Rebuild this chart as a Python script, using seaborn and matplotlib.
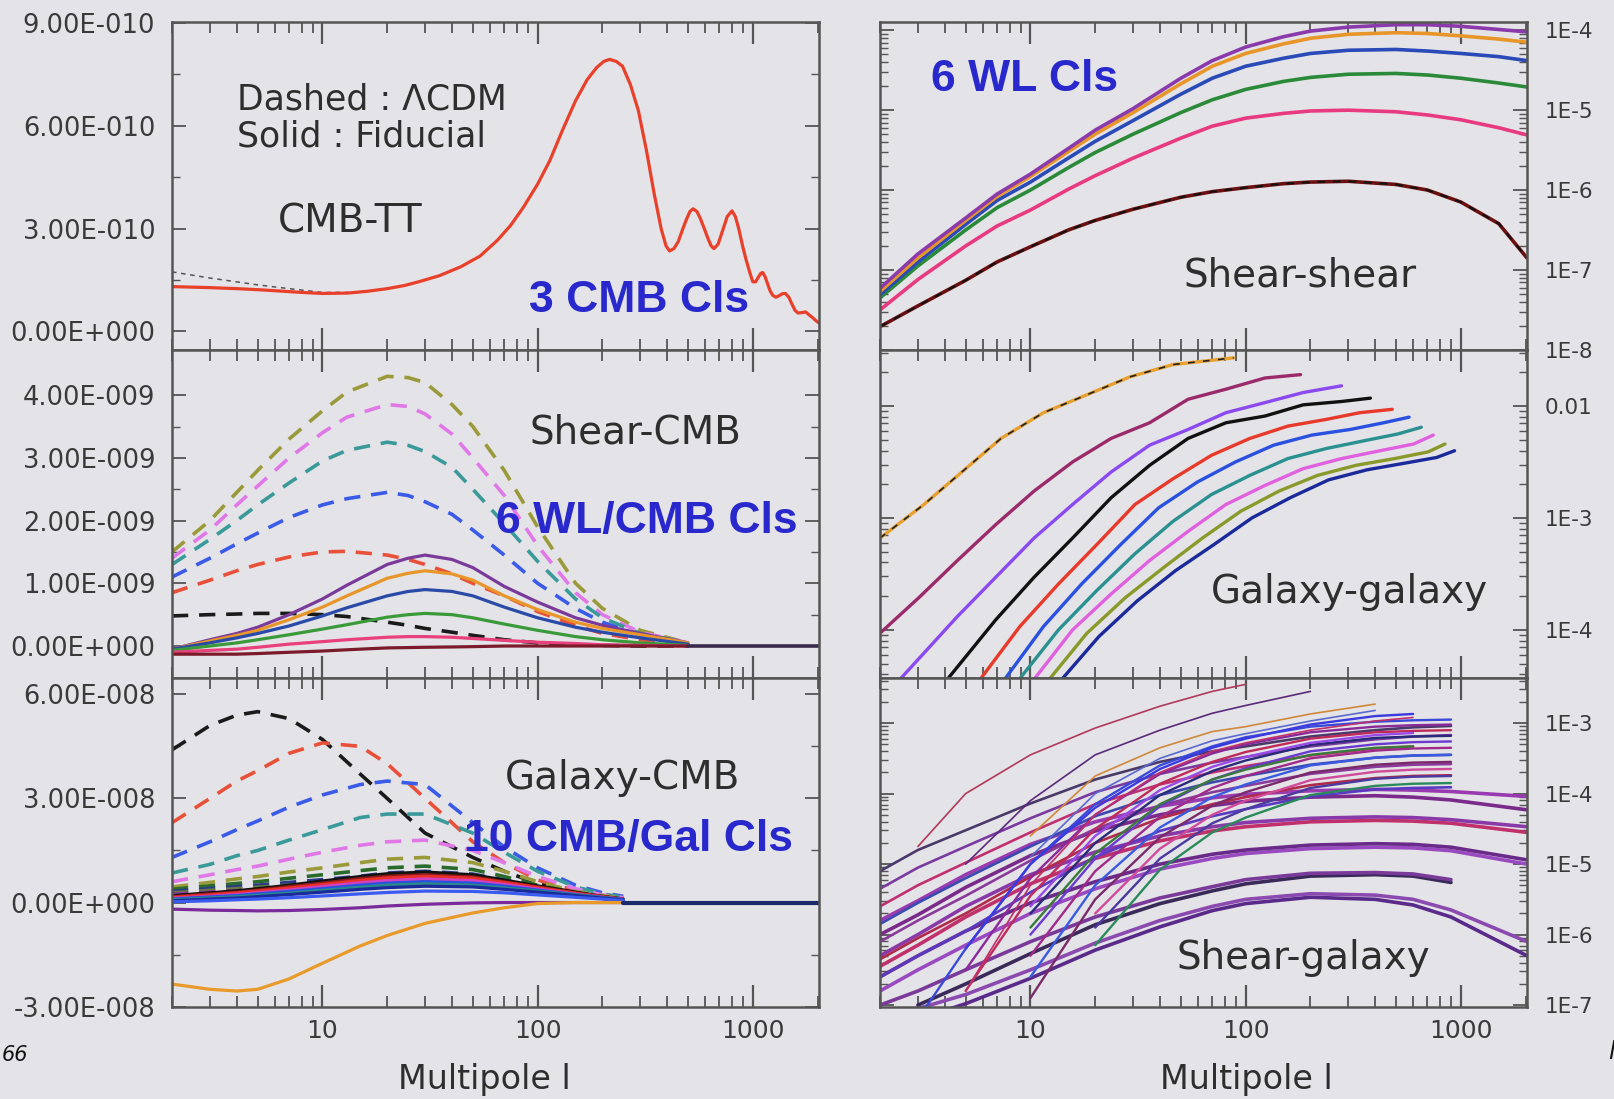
import numpy as np
import matplotlib
matplotlib.use("Agg")
import matplotlib.pyplot as plt
import seaborn as sns
from matplotlib.ticker import FuncFormatter, NullFormatter, FixedLocator

nan = np.nan

# ---------------- CMB-TT (units of 1e-10) ----------------
tt_ell = [2, 3, 4, 5, 6, 8, 10, 13, 16, 20, 24, 28, 35, 44, 54, 65, 75, 86, 100, 114,
          130, 150, 170, 188, 203, 216, 232, 248, 270, 294, 320, 348, 375, 395, 410, 430,
          450, 470, 490, 510, 528, 550, 570, 595, 620, 640, 660, 690, 720, 760, 800, 830,
          860, 900, 930, 970, 1000, 1030, 1060, 1090, 1112, 1140, 1170, 1200, 1235, 1280,
          1330, 1370, 1417, 1470, 1520, 1570, 1620, 1690, 1760, 1830, 1900, 1960, 2030]
tt_fid = [1.31, 1.28, 1.25, 1.22, 1.19, 1.14, 1.11, 1.12, 1.17, 1.25, 1.34, 1.45, 1.63, 1.89, 2.20, 2.66, 3.10, 3.63, 4.30, 4.99,
          5.85, 6.73, 7.35, 7.70, 7.88, 7.94, 7.88, 7.74, 7.20, 6.44, 5.30, 4.02, 3.00, 2.50, 2.35, 2.42,
          2.62, 2.95, 3.25, 3.50, 3.58, 3.50, 3.30, 3.00, 2.70, 2.50, 2.42, 2.55, 2.90, 3.35, 3.52, 3.35,
          3.00, 2.45, 2.10, 1.70, 1.45, 1.45, 1.58, 1.70, 1.72, 1.60, 1.40, 1.20, 1.06, 1.00,
          1.05, 1.10, 1.11, 1.00, 0.80, 0.62, 0.54, 0.55, 0.57, 0.48, 0.40, 0.32, 0.25]
tt_lcdm_ell = [2, 3, 5, 7, 10, 15]
tt_lcdm = [1.74, 1.56, 1.36, 1.25, 1.14, 1.14]

# ---------------- Shear-CMB (units of 1e-9) ----------------
sc_ell = [2, 3, 4, 5, 7, 10, 13, 20, 25, 30, 40, 50, 70, 100, 150, 200, 300, 500]
sc_dashed = {
    "#9a9a3a": [1.5, 2.0, 2.45, 2.8, 3.3, 3.75, 4.05, 4.3, 4.28, 4.2, 3.85, 3.5, 2.8, 1.9, 1.0, 0.6, 0.25, 0.05],
    "#e078e8": [1.4, 1.85, 2.25, 2.55, 3.0, 3.4, 3.65, 3.85, 3.82, 3.7, 3.38, 3.0, 2.4, 1.6, 0.85, 0.5, 0.22, 0.05],
    "#3a9a9a": [1.3, 1.7, 2.0, 2.25, 2.6, 2.95, 3.12, 3.25, 3.2, 3.1, 2.85, 2.5, 1.95, 1.35, 0.75, 0.45, 0.2, 0.05],
    "#3a5ae8": [1.1, 1.4, 1.63, 1.8, 2.05, 2.25, 2.35, 2.45, 2.4, 2.3, 2.1, 1.85, 1.45, 1.0, 0.6, 0.38, 0.17, 0.04],
    "#e8503a": [0.85, 1.05, 1.2, 1.3, 1.42, 1.5, 1.51, 1.45, 1.38, 1.3, 1.15, 1.0, 0.8, 0.55, 0.33, 0.2, 0.1, 0.02],
    "#1a1a1a": [0.48, 0.5, 0.51, 0.52, 0.52, 0.5, 0.47, 0.38, 0.33, 0.28, 0.22, 0.17, 0.1, 0.05, 0.02, 0.01, 0.0, 0.0],
}
sc_solid = {
    "#7a3a9a": [-0.05, 0.1, 0.2, 0.3, 0.5, 0.75, 0.97, 1.3, 1.4, 1.45, 1.38, 1.25, 0.95, 0.7, 0.45, 0.33, 0.2, 0.05],
    "#e8962a": [-0.05, 0.08, 0.17, 0.25, 0.42, 0.62, 0.8, 1.08, 1.16, 1.2, 1.15, 1.05, 0.8, 0.58, 0.38, 0.28, 0.18, 0.05],
    "#2a4aa8": [-0.05, 0.05, 0.13, 0.2, 0.32, 0.48, 0.61, 0.8, 0.87, 0.9, 0.87, 0.8, 0.62, 0.45, 0.3, 0.22, 0.13, 0.03],
    "#3a9a3a": [-0.07, 0.0, 0.05, 0.1, 0.18, 0.27, 0.34, 0.46, 0.5, 0.52, 0.5, 0.45, 0.35, 0.25, 0.15, 0.1, 0.05, 0.01],
    "#e8407a": [-0.1, -0.07, -0.05, -0.02, 0.03, 0.07, 0.1, 0.14, 0.15, 0.15, 0.14, 0.12, 0.09, 0.06, 0.04, 0.02, 0.01, 0.0],
    "#7a1a2a": [-0.13, -0.13, -0.13, -0.12, -0.1, -0.08, -0.06, -0.03, -0.025, -0.02, -0.015, -0.01, 0.0, 0.0, 0.0, 0.0, 0.0, 0.0],
}
sc_tail_ell = [500, 2030]
sc_tail = [0.0, 0.0]

# ---------------- Galaxy-CMB (units of 1e-8) ----------------
gc_ell = [2, 3, 4, 5, 7, 10, 15, 20, 30, 50, 70, 100, 150, 200, 250]
gc_dashed = {
    "#1a1a1a": [4.4, 5.1, 5.4, 5.5, 5.3, 4.7, 3.7, 3.0, 2.0, 1.3, 0.9, 0.55, 0.3, 0.18, 0.12],
    "#e8503a": [2.3, 3.0, 3.5, 3.8, 4.3, 4.6, 4.5, 4.0, 3.0, 1.75, 1.15, 0.65, 0.35, 0.2, 0.12],
    "#3a5ae8": [1.3, 1.75, 2.1, 2.35, 2.75, 3.1, 3.4, 3.5, 3.4, 2.3, 1.6, 1.0, 0.5, 0.28, 0.18],
    "#3a9a9a": [0.85, 1.1, 1.35, 1.5, 1.8, 2.1, 2.45, 2.55, 2.55, 2.0, 1.45, 0.9, 0.45, 0.25, 0.15],
    "#e078e8": [0.6, 0.8, 0.95, 1.05, 1.25, 1.45, 1.65, 1.75, 1.8, 1.5, 1.15, 0.75, 0.4, 0.22, 0.14],
    "#9a9a3a": [0.45, 0.58, 0.68, 0.75, 0.88, 1.0, 1.15, 1.25, 1.3, 1.15, 0.9, 0.6, 0.32, 0.2, 0.12],
    "#2a6a2a": [0.38, 0.48, 0.55, 0.6, 0.7, 0.8, 0.92, 1.0, 1.05, 0.95, 0.75, 0.5, 0.28, 0.16, 0.1],
    "#2a3a8a": [0.32, 0.4, 0.46, 0.5, 0.58, 0.66, 0.76, 0.85, 0.9, 0.82, 0.65, 0.45, 0.25, 0.14, 0.09],
    "#6a7a3a": [0.28, 0.35, 0.4, 0.44, 0.5, 0.57, 0.66, 0.73, 0.78, 0.72, 0.58, 0.4, 0.22, 0.12, 0.08],
    "#8a3aaa": [0.24, 0.3, 0.34, 0.37, 0.42, 0.48, 0.56, 0.62, 0.66, 0.62, 0.5, 0.35, 0.2, 0.11, 0.07],
}
gc_solid = {
    "#111111": [0.2, 0.28, 0.34, 0.4, 0.5, 0.62, 0.75, 0.83, 0.88, 0.8, 0.65, 0.48, 0.3, 0.18, 0.1],
    "#8a1a1a": [0.17, 0.25, 0.3, 0.36, 0.46, 0.56, 0.69, 0.76, 0.8, 0.74, 0.6, 0.45, 0.28, 0.17, 0.1],
    "#e8302a": [0.15, 0.22, 0.28, 0.33, 0.42, 0.52, 0.64, 0.71, 0.76, 0.7, 0.58, 0.43, 0.27, 0.17, 0.1],
    "#d040c0": [0.12, 0.18, 0.23, 0.28, 0.36, 0.46, 0.57, 0.63, 0.68, 0.63, 0.52, 0.39, 0.24, 0.15, 0.09],
    "#2a50e0": [0.1, 0.16, 0.2, 0.25, 0.32, 0.4, 0.5, 0.56, 0.6, 0.56, 0.47, 0.36, 0.23, 0.15, 0.09],
    "#2a8a8a": [0.08, 0.13, 0.17, 0.21, 0.27, 0.35, 0.44, 0.5, 0.54, 0.5, 0.42, 0.33, 0.22, 0.14, 0.08],
    "#1a2a9a": [0.05, 0.1, 0.13, 0.17, 0.23, 0.3, 0.38, 0.43, 0.47, 0.45, 0.38, 0.3, 0.2, 0.13, 0.08],
    "#3a5af0": [0.02, 0.05, 0.08, 0.1, 0.14, 0.19, 0.25, 0.29, 0.33, 0.32, 0.28, 0.22, 0.15, 0.1, 0.06],
    "#7a2a9a": [-0.19, -0.22, -0.23, -0.24, -0.23, -0.2, -0.15, -0.1, -0.05, -0.01, 0.0, 0.0, 0.0, 0.0, 0.0],
    "#e89a2a": [-2.35, -2.5, -2.55, -2.5, -2.2, -1.75, -1.25, -0.95, -0.6, -0.3, -0.15, -0.03, 0.0, 0.0, 0.0],
}
gc_tail_ell = [250, 2030]
gc_tail = [0.0, 0.0]

# ---------------- Shear-shear (log10 Cl) ----------------
ss_ell = [2, 3, 5, 7, 10, 15, 20, 30, 50, 70, 100, 150, 200, 300, 500, 700, 1000, 1500, 2030]
ss_curves = {
    "#6a1010": [-7.71, -7.45, -7.13, -6.9, -6.71, -6.5, -6.38, -6.24, -6.09, -6.02, -5.97, -5.92, -5.9, -5.89, -5.93, -6.0, -6.15, -6.42, -6.85],
    "#e83a80": [-7.5, -7.12, -6.7, -6.45, -6.25, -5.99, -5.82, -5.6, -5.35, -5.2, -5.1, -5.04, -5.01, -5.0, -5.02, -5.06, -5.12, -5.22, -5.31],
    "#2a8a3a": [-7.35, -6.95, -6.5, -6.22, -6.0, -5.72, -5.53, -5.3, -5.03, -4.87, -4.74, -4.64, -4.59, -4.55, -4.54, -4.56, -4.6, -4.66, -4.71],
    "#2a4ab8": [-7.31, -6.9, -6.43, -6.13, -5.9, -5.6, -5.39, -5.13, -4.8, -4.6, -4.45, -4.35, -4.29, -4.25, -4.24, -4.26, -4.29, -4.33, -4.38],
    "#e8962a": [-7.27, -6.85, -6.38, -6.08, -5.83, -5.52, -5.3, -5.03, -4.67, -4.45, -4.29, -4.17, -4.1, -4.05, -4.03, -4.04, -4.07, -4.11, -4.15],
    "#8a3aaa": [-7.23, -6.8, -6.35, -6.05, -5.8, -5.48, -5.25, -4.98, -4.6, -4.38, -4.21, -4.08, -4.01, -3.96, -3.93, -3.93, -3.95, -3.99, -4.02],
}

# ---------------- Galaxy-galaxy (log10 Cl), one ell list per curve ----------------
gg_orange_ell = [2.0, 3.2, 4.8, 7.3, 11.5, 18.3, 29, 46, 88]
gg_orange = [-3.18, -2.88, -2.59, -2.29, -2.06, -1.90, -1.74, -1.63, -1.57]
gg_magenta_ell = [2.0, 3.04, 4.58, 6.9, 10.4, 15.7, 23.7, 35.8, 54, 81, 123, 180]
gg_magenta = [-4.03, -3.71, -3.38, -3.06, -2.76, -2.50, -2.29, -2.15, -1.94, -1.85, -1.75, -1.72]
gg_violet_ell = [2.2, 4.58, 6.9, 10.4, 15.7, 23.7, 35.8, 54, 81, 123, 185, 279]
gg_violet = [-4.55, -3.88, -3.53, -3.18, -2.88, -2.59, -2.35, -2.21, -2.06, -1.97, -1.88, -1.82]
gg_black_ell = [3.7, 6.9, 10.4, 15.7, 23.7, 35.8, 54, 81, 123, 185, 279, 380]
gg_black = [-4.55, -3.91, -3.53, -3.18, -2.82, -2.53, -2.29, -2.15, -2.09, -1.99, -1.96, -1.93]
gg_red_ell = [5.3, 8.93, 13.5, 20.3, 30.6, 46, 69.5, 104.6, 157, 237, 339, 480]
gg_red = [-4.55, -3.97, -3.59, -3.24, -2.88, -2.65, -2.44, -2.29, -2.18, -2.12, -2.06, -2.03]
gg_blue_ell = [6.9, 11.5, 17.3, 26.2, 39.4, 59.6, 89.7, 135, 203, 306, 438, 575]
gg_blue = [-4.55, -3.97, -3.59, -3.24, -2.91, -2.68, -2.50, -2.35, -2.26, -2.21, -2.15, -2.10]
gg_teal_ell = [8.0, 13.5, 20.3, 30.6, 46, 69.5, 104.6, 157, 237, 357, 510, 655]
gg_teal = [-4.55, -4.00, -3.65, -3.32, -3.03, -2.79, -2.62, -2.47, -2.38, -2.31, -2.25, -2.19]
gg_pink_ell = [9.4, 15.7, 23.7, 35.8, 54, 81, 123, 185, 279, 421, 603, 745]
gg_pink = [-4.55, -4.00, -3.68, -3.38, -3.12, -2.88, -2.71, -2.56, -2.47, -2.40, -2.34, -2.26]
gg_olive_ell = [11.0, 18.3, 27.7, 41.8, 63, 95, 143, 216, 326, 492, 705, 844]
gg_olive = [-4.55, -4.03, -3.71, -3.44, -3.18, -2.94, -2.76, -2.62, -2.53, -2.47, -2.41, -2.34]
gg_navy_ell = [12.5, 20.8, 31.4, 47.3, 71, 107, 161, 243, 367, 552, 772, 935]
gg_navy = [-4.55, -4.06, -3.74, -3.47, -3.24, -3.00, -2.82, -2.66, -2.57, -2.51, -2.46, -2.40]

# ---------------- Shear-galaxy (log10 Cl) ----------------
sg_ell = [2, 3, 5, 10, 20, 40, 70, 100, 200, 400, 600, 900, 2030]
sg_rows = [
    # bundles that run to l=2000
    [nan, -7.2, -6.98, -6.62, -6.22, -5.89, -5.66, -5.56, -5.47, -5.5, -5.58, -5.75, -6.3],
    [-7.25, -7.05, -6.85, -6.5, -6.12, -5.8, -5.6, -5.5, -5.42, -5.44, -5.5, -5.65, -6.1],
    [nan, -7.0, -6.7, -6.27, -5.86, -5.56, -5.38, -5.28, -5.17, -5.15, -5.17, -5.26, nan],
    [-7.0, -6.8, -6.5, -6.1, -5.75, -5.48, -5.32, -5.22, -5.13, -5.12, -5.14, -5.22, nan],
    [-6.8, -6.5, -6.15, -5.7, -5.35, -5.07, -4.92, -4.85, -4.78, -4.76, -4.77, -4.81, -5.0],
    [-6.6, -6.3, -5.95, -5.55, -5.25, -5.0, -4.86, -4.8, -4.73, -4.71, -4.72, -4.76, -4.94],
    [-6.45, -6.15, -5.75, -5.28, -4.92, -4.67, -4.53, -4.47, -4.4, -4.38, -4.39, -4.42, -4.55],
    [-6.3, -6.0, -5.6, -5.15, -4.83, -4.6, -4.47, -4.41, -4.35, -4.33, -4.34, -4.37, -4.47],
    [-6.0, -5.72, -5.33, -4.88, -4.53, -4.3, -4.17, -4.11, -4.05, -4.03, -4.05, -4.09, -4.23],
    [-5.8, -5.52, -5.15, -4.72, -4.4, -4.18, -4.06, -4.01, -3.96, -3.94, -3.95, -3.97, -4.04],
    # shallow curves starting high at low l
    [-6.6, -6.3, -5.95, -5.4, -4.9, -4.53, -4.32, -4.22, -4.04, -3.94, -3.92, -3.91, nan],
    [-6.35, -6.05, -5.7, -5.18, -4.7, -4.35, -4.15, -4.05, -3.88, -3.78, -3.75, -3.74, nan],
    [-6.1, -5.8, -5.45, -4.95, -4.5, -4.17, -3.98, -3.89, -3.72, -3.62, -3.59, -3.58, nan],
    [-5.85, -5.55, -5.2, -4.75, -4.32, -4.02, -3.84, -3.75, -3.59, -3.49, -3.46, -3.45, nan],
    [-5.6, -5.3, -4.98, -4.55, -4.15, -3.87, -3.7, -3.61, -3.46, -3.36, -3.33, nan, nan],
    [-5.35, -5.05, -4.75, -4.35, -3.98, -3.72, -3.56, -3.48, -3.33, -3.23, -3.19, -3.17, nan],
    [-5.1, -4.8, -4.52, -4.14, -3.8, -3.55, -3.4, -3.33, -3.19, -3.1, -3.06, -3.04, nan],
    # steep curves rising from the bottom
    [nan, nan, nan, nan, -6.15, -5.08, -4.55, -4.34, -4.02, -3.89, -3.86, -3.85, nan],
    [nan, nan, nan, nan, -5.9, -4.92, -4.42, -4.22, -3.92, -3.79, -3.76, -3.75, nan],
    [nan, nan, nan, nan, -5.7, -4.78, -4.3, -4.1, -3.81, -3.69, -3.66, -3.65, nan],
    [nan, nan, nan, -6.9, -5.5, -4.62, -4.17, -3.98, -3.7, -3.59, -3.56, -3.55, nan],
    [nan, nan, nan, -6.6, -5.3, -4.48, -4.05, -3.87, -3.6, -3.49, -3.46, -3.45, nan],
    [nan, nan, nan, -6.3, -5.1, -4.33, -3.92, -3.75, -3.5, -3.39, -3.36, -3.35, nan],
    [nan, nan, nan, -6.0, -4.92, -4.18, -3.8, -3.64, -3.4, -3.3, -3.27, -3.26, nan],
    [nan, nan, nan, -5.7, -4.7, -4.02, -3.68, -3.53, -3.31, -3.21, -3.19, -3.18, nan],
    [nan, nan, -6.8, -5.45, -4.5, -3.86, -3.55, -3.41, -3.22, -3.13, -3.11, -3.1, nan],
    [nan, nan, -6.5, -5.2, -4.3, -3.72, -3.43, -3.3, -3.13, -3.05, -3.03, -3.02, nan],
    [nan, -7.2, -6.2, -5.0, -4.15, -3.6, -3.33, -3.2, -3.05, -2.98, -2.96, -2.95, nan],
    [nan, nan, nan, -5.9, -4.85, -4.15, -3.8, -3.66, -3.45, -3.35, -3.33, nan, nan],
    [nan, nan, nan, -5.6, -4.6, -3.95, -3.62, -3.48, -3.28, -3.17, -3.14, nan, nan],
    [nan, nan, -6.2, -5.0, -4.2, -3.65, -3.35, -3.22, -3.02, -2.9, -2.87, nan, nan],
    # thin upper curves
    [nan, nan, -6.8, -5.3, -4.3, -3.7, -3.4, -3.28, -3.1, -2.97, -2.92, nan, nan],
    [nan, nan, nan, -4.9, -4.0, -3.5, -3.25, -3.15, -2.97, -2.82, nan, nan, nan],
    [nan, nan, nan, -4.6, -3.75, -3.35, -3.12, -3.05, -2.87, -2.73, nan, nan, nan],
    [nan, nan, -5.0, -4.1, -3.45, -3.1, -2.86, -2.75, -2.55, nan, nan, nan, nan],
    [nan, -4.75, -4.0, -3.45, -3.07, -2.76, -2.55, -2.45, nan, nan, nan, nan, nan],
]
sg_colors = ["#5a2a8a", "#8a4ab0", "#3a2a5a", "#7a3a9a", "#9a4ac0", "#6a2a8a", "#c0306a", "#8a3aa8", "#7a2a8a", "#9a3ab0",
             "#5a3ac0", "#b02a4a", "#8a3a9a", "#3a4ab0", "#c03070", "#7a3aa0", "#4a3a6a",
             "#2a8a5a", "#4a3aa0", "#d04a9a", "#7a2a6a", "#3a5ae0", "#a02a8a", "#6a3ad0", "#2a2a7a", "#c02a5a", "#8a2a9a", "#3a4ad8",
             "#3a7a3a", "#9a4ae8", "#3a3ae0",
             "#c0306a", "#5a6ad0", "#d0883a", "#5a2a7a", "#b03a5a"]
sg_widths = [2.6] * 10 + [1.9] * 7 + [1.7] * 14 + [1.2] * 5

# y tick positions of the linear panels
tt_ticks = [0.0, 3e-10, 6e-10, 9e-10]
sc_ticks = [0.0, 1e-9, 2e-9, 3e-9, 4e-9]
gc_ticks = [-3e-8, 0.0, 3e-8, 6e-8]

BG = "#e4e3e7"
SPINE = "#555555"
TXT = "#2e2e2e"
BLUE = "#2828cc"

sns.set_theme(style="ticks", rc={"axes.facecolor": BG, "figure.facecolor": BG})
plt.rcParams["font.family"] = ["DejaVu Sans"]

fig = plt.figure(figsize=(16.15, 10.99), dpi=100)
L0, R0, W = 172 / 1615, 880 / 1615, 647 / 1615
rows = [(1 - 350 / 1099, 328 / 1099), (1 - 678 / 1099, 328 / 1099), (1 - 1007 / 1099, 329 / 1099)]


def sci_fmt(v, pos):
    if abs(v) < 1e-30:
        return "0.00E+000"
    m, e = f"{v:.2E}".split("E")
    e = int(e)
    return f"{m}E{'+' if e >= 0 else '-'}{abs(e):03d}"


def log_fmt(v, pos):
    e = int(round(np.log10(v)))
    return "0.01" if e == -2 else f"1E{e}"


def style(ax, right_labels, show_x):
    ax.set_xscale("log")
    ax.set_xlim(2, 2030)
    for s in ax.spines.values():
        s.set_color(SPINE)
        s.set_linewidth(1.8)
        s.set_visible(True)
    ax.xaxis.set_major_locator(FixedLocator([10, 100, 1000]))
    ax.xaxis.set_minor_locator(FixedLocator([f * d for d in (1, 10, 100, 1000) for f in range(2, 10) if f * d <= 2000]))
    ax.xaxis.set_major_formatter(FuncFormatter(lambda v, p: f"{v:g}"))
    ax.xaxis.set_minor_formatter(NullFormatter())
    ax.tick_params(axis="both", which="both", direction="in", top=True, bottom=True,
                   left=True, right=True, colors=SPINE, labelcolor="#3a3a3a")
    ax.tick_params(axis="x", which="major", length=16, width=1.6, labelsize=18, pad=9,
                   labelbottom=show_x)
    ax.tick_params(axis="x", which="minor", length=8, width=1.3)
    ax.tick_params(axis="y", which="major", length=10, width=1.3)
    ax.tick_params(axis="y", which="minor", length=6, width=1.0)
    if right_labels:
        ax.tick_params(axis="y", labelleft=False, labelright=True, labelsize=15.5, pad=13)
    else:
        ax.tick_params(axis="y", labelsize=18.5, pad=12)
    ax.yaxis.get_offset_text().set_visible(False)
    ax.xaxis.get_offset_text().set_visible(False)
    ax.set_xlabel("")
    ax.set_ylabel("")


def lin_ticks(ax, ticks):
    ax.yaxis.set_major_locator(FixedLocator(ticks))
    step = ticks[1] - ticks[0]
    ax.yaxis.set_minor_locator(FixedLocator([t + step / 2 for t in ticks[:-1]]))
    ax.yaxis.set_major_formatter(FuncFormatter(sci_fmt))
    ax.yaxis.set_minor_formatter(NullFormatter())


def line(ax, x, y, color, lw=2.2, ls="-"):
    sns.lineplot(x=np.asarray(x, float), y=np.asarray(y, float), ax=ax, color=color,
                 linewidth=lw, linestyle=ls, sort=False, estimator=None)


DASH = (0, (4.5, 3))
axes = {}
for i, (b, h) in enumerate(rows):
    axes[("L", i)] = fig.add_axes([L0, b, W, h])
    axes[("R", i)] = fig.add_axes([R0, b, W, h])

# ---- CMB-TT ----
ax = axes[("L", 0)]
style(ax, False, False)
line(ax, tt_lcdm_ell, np.array(tt_lcdm) * 1e-10, "#555555", lw=1.1, ls=(0, (3, 3)))
line(ax, tt_ell, np.array(tt_fid) * 1e-10, "#e8402a", lw=2.3)
ax.set_ylim(-0.54e-10, 9.03e-10)
lin_ticks(ax, tt_ticks)
ax.text(0.10, 0.765, "Dashed : \u039bCDM", transform=ax.transAxes, fontsize=25, color=TXT, va="center")
ax.text(0.10, 0.65, "Solid : Fiducial", transform=ax.transAxes, fontsize=25, color=TXT, va="center")
ax.text(0.275, 0.393, "CMB-TT", transform=ax.transAxes, fontsize=28, color=TXT, ha="center", va="center")
ax.text(0.722, 0.15, "3 CMB Cls", transform=ax.transAxes, fontsize=32, color=BLUE, ha="center",
        va="center", family="Liberation Sans", weight="bold")

# ---- Shear-CMB ----
ax = axes[("L", 1)]
style(ax, False, False)
for c, v in sc_dashed.items():
    line(ax, sc_ell, np.array(v) * 1e-9, c, lw=2.6, ls=DASH)
for c, v in sc_solid.items():
    line(ax, sc_ell, np.array(v) * 1e-9, c, lw=2.3)
line(ax, sc_tail_ell, sc_tail, "#3a2a4a", lw=2.6)
ax.set_ylim(-0.51e-9, 4.72e-9)
lin_ticks(ax, sc_ticks)
ax.text(0.717, 0.747, "Shear-CMB", transform=ax.transAxes, fontsize=28, color=TXT, ha="center", va="center")
ax.text(0.734, 0.476, "6 WL/CMB Cls", transform=ax.transAxes, fontsize=32, color=BLUE, ha="center",
        va="center", family="Liberation Sans", weight="bold")

# ---- Galaxy-CMB ----
ax = axes[("L", 2)]
style(ax, False, True)
for c, v in gc_dashed.items():
    line(ax, gc_ell, np.array(v) * 1e-8, c, lw=2.6, ls=DASH)
for c, v in gc_solid.items():
    line(ax, gc_ell, np.array(v) * 1e-8, c, lw=2.3)
line(ax, gc_tail_ell, gc_tail, "#1a2a6a", lw=3.0)
ax.set_ylim(-3.01e-8, 6.47e-8)
lin_ticks(ax, gc_ticks)
ax.text(0.697, 0.696, "Galaxy-CMB", transform=ax.transAxes, fontsize=28, color=TXT, ha="center", va="center")
ax.text(0.705, 0.51, "10 CMB/Gal Cls", transform=ax.transAxes, fontsize=32, color=BLUE, ha="center",
        va="center", family="Liberation Sans", weight="bold")

# ---- Shear-shear ----
ax = axes[("R", 0)]
ax.set_yscale("log")
style(ax, True, False)
for c, v in ss_curves.items():
    line(ax, ss_ell, 10 ** np.array(v), c, lw=2.6)
line(ax, ss_ell, 10 ** np.array(ss_curves["#6a1010"]), "#111111", lw=1.4, ls=(0, (4, 4)))
ax.set_ylim(0.995e-8, 1.27e-4)

# ---- Galaxy-galaxy ----
ax = axes[("R", 1)]
ax.set_yscale("log")
style(ax, True, False)
gg_sets = [(gg_orange_ell, gg_orange, "#e8a030"), (gg_magenta_ell, gg_magenta, "#9a2a6a"),
           (gg_violet_ell, gg_violet, "#8a4af0"), (gg_black_ell, gg_black, "#111111"),
           (gg_red_ell, gg_red, "#e83a2a"), (gg_blue_ell, gg_blue, "#2a50e0"),
           (gg_teal_ell, gg_teal, "#2a9090"), (gg_pink_ell, gg_pink, "#e060e0"),
           (gg_olive_ell, gg_olive, "#8a9a2a"), (gg_navy_ell, gg_navy, "#1a2a9a")]
for x, v, c in gg_sets:
    line(ax, x, 10 ** np.array(v), c, lw=2.4)
line(ax, gg_orange_ell, 10 ** np.array(gg_orange), "#222222", lw=1.2, ls=(0, (4, 5)))
ax.set_ylim(10 ** -4.43, 10 ** -1.5)

# ---- Shear-galaxy ----
ax = axes[("R", 2)]
ax.set_yscale("log")
style(ax, True, True)
for v, c, w in zip(sg_rows, sg_colors, sg_widths):
    line(ax, sg_ell, 10 ** np.array(v), c, lw=w)
ax.set_ylim(0.94e-7, 10 ** -2.36)

for key in [("R", 0), ("R", 1), ("R", 2)]:
    a = axes[key]
    lo, hi = a.get_ylim()
    majors = [10.0 ** e for e in range(-9, 0) if lo <= 10.0 ** e <= hi]
    minors = [f * 10.0 ** e for e in range(-9, 0) for f in range(2, 10) if lo <= f * 10.0 ** e <= hi]
    a.yaxis.set_major_locator(FixedLocator(majors))
    a.yaxis.set_minor_locator(FixedLocator(minors))
    a.yaxis.set_major_formatter(FuncFormatter(log_fmt))
    a.yaxis.set_minor_formatter(NullFormatter())

axes[("R", 0)].text(0.224, 0.826, "6 WL Cls", transform=axes[("R", 0)].transAxes, fontsize=32, color=BLUE,
                    ha="center", va="center", family="Liberation Sans", weight="bold")
axes[("R", 0)].text(0.649, 0.226, "Shear-shear", transform=axes[("R", 0)].transAxes, fontsize=28,
                    color=TXT, ha="center", va="center")
axes[("R", 1)].text(0.725, 0.262, "Galaxy-galaxy", transform=axes[("R", 1)].transAxes, fontsize=28,
                    color=TXT, ha="center", va="center")
axes[("R", 2)].text(0.654, 0.149, "Shear-galaxy", transform=axes[("R", 2)].transAxes, fontsize=28,
                    color=TXT, ha="center", va="center")

fig.text(484 / 1615, 1 - 1080 / 1099, "Multipole l", fontsize=24, color=TXT, ha="center", va="center")
fig.text(1246 / 1615, 1 - 1080 / 1099, "Multipole l", fontsize=24, color=TXT, ha="center", va="center")
fig.text(0.001, 1 - 1055 / 1099, "66", fontsize=15, style="italic", color="#111111", va="center")
fig.text(0.996, 1 - 1052 / 1099, "l", fontsize=17, style="italic", color="#111111", va="center")

fig.savefig("out.png", dpi=100, facecolor=BG)
